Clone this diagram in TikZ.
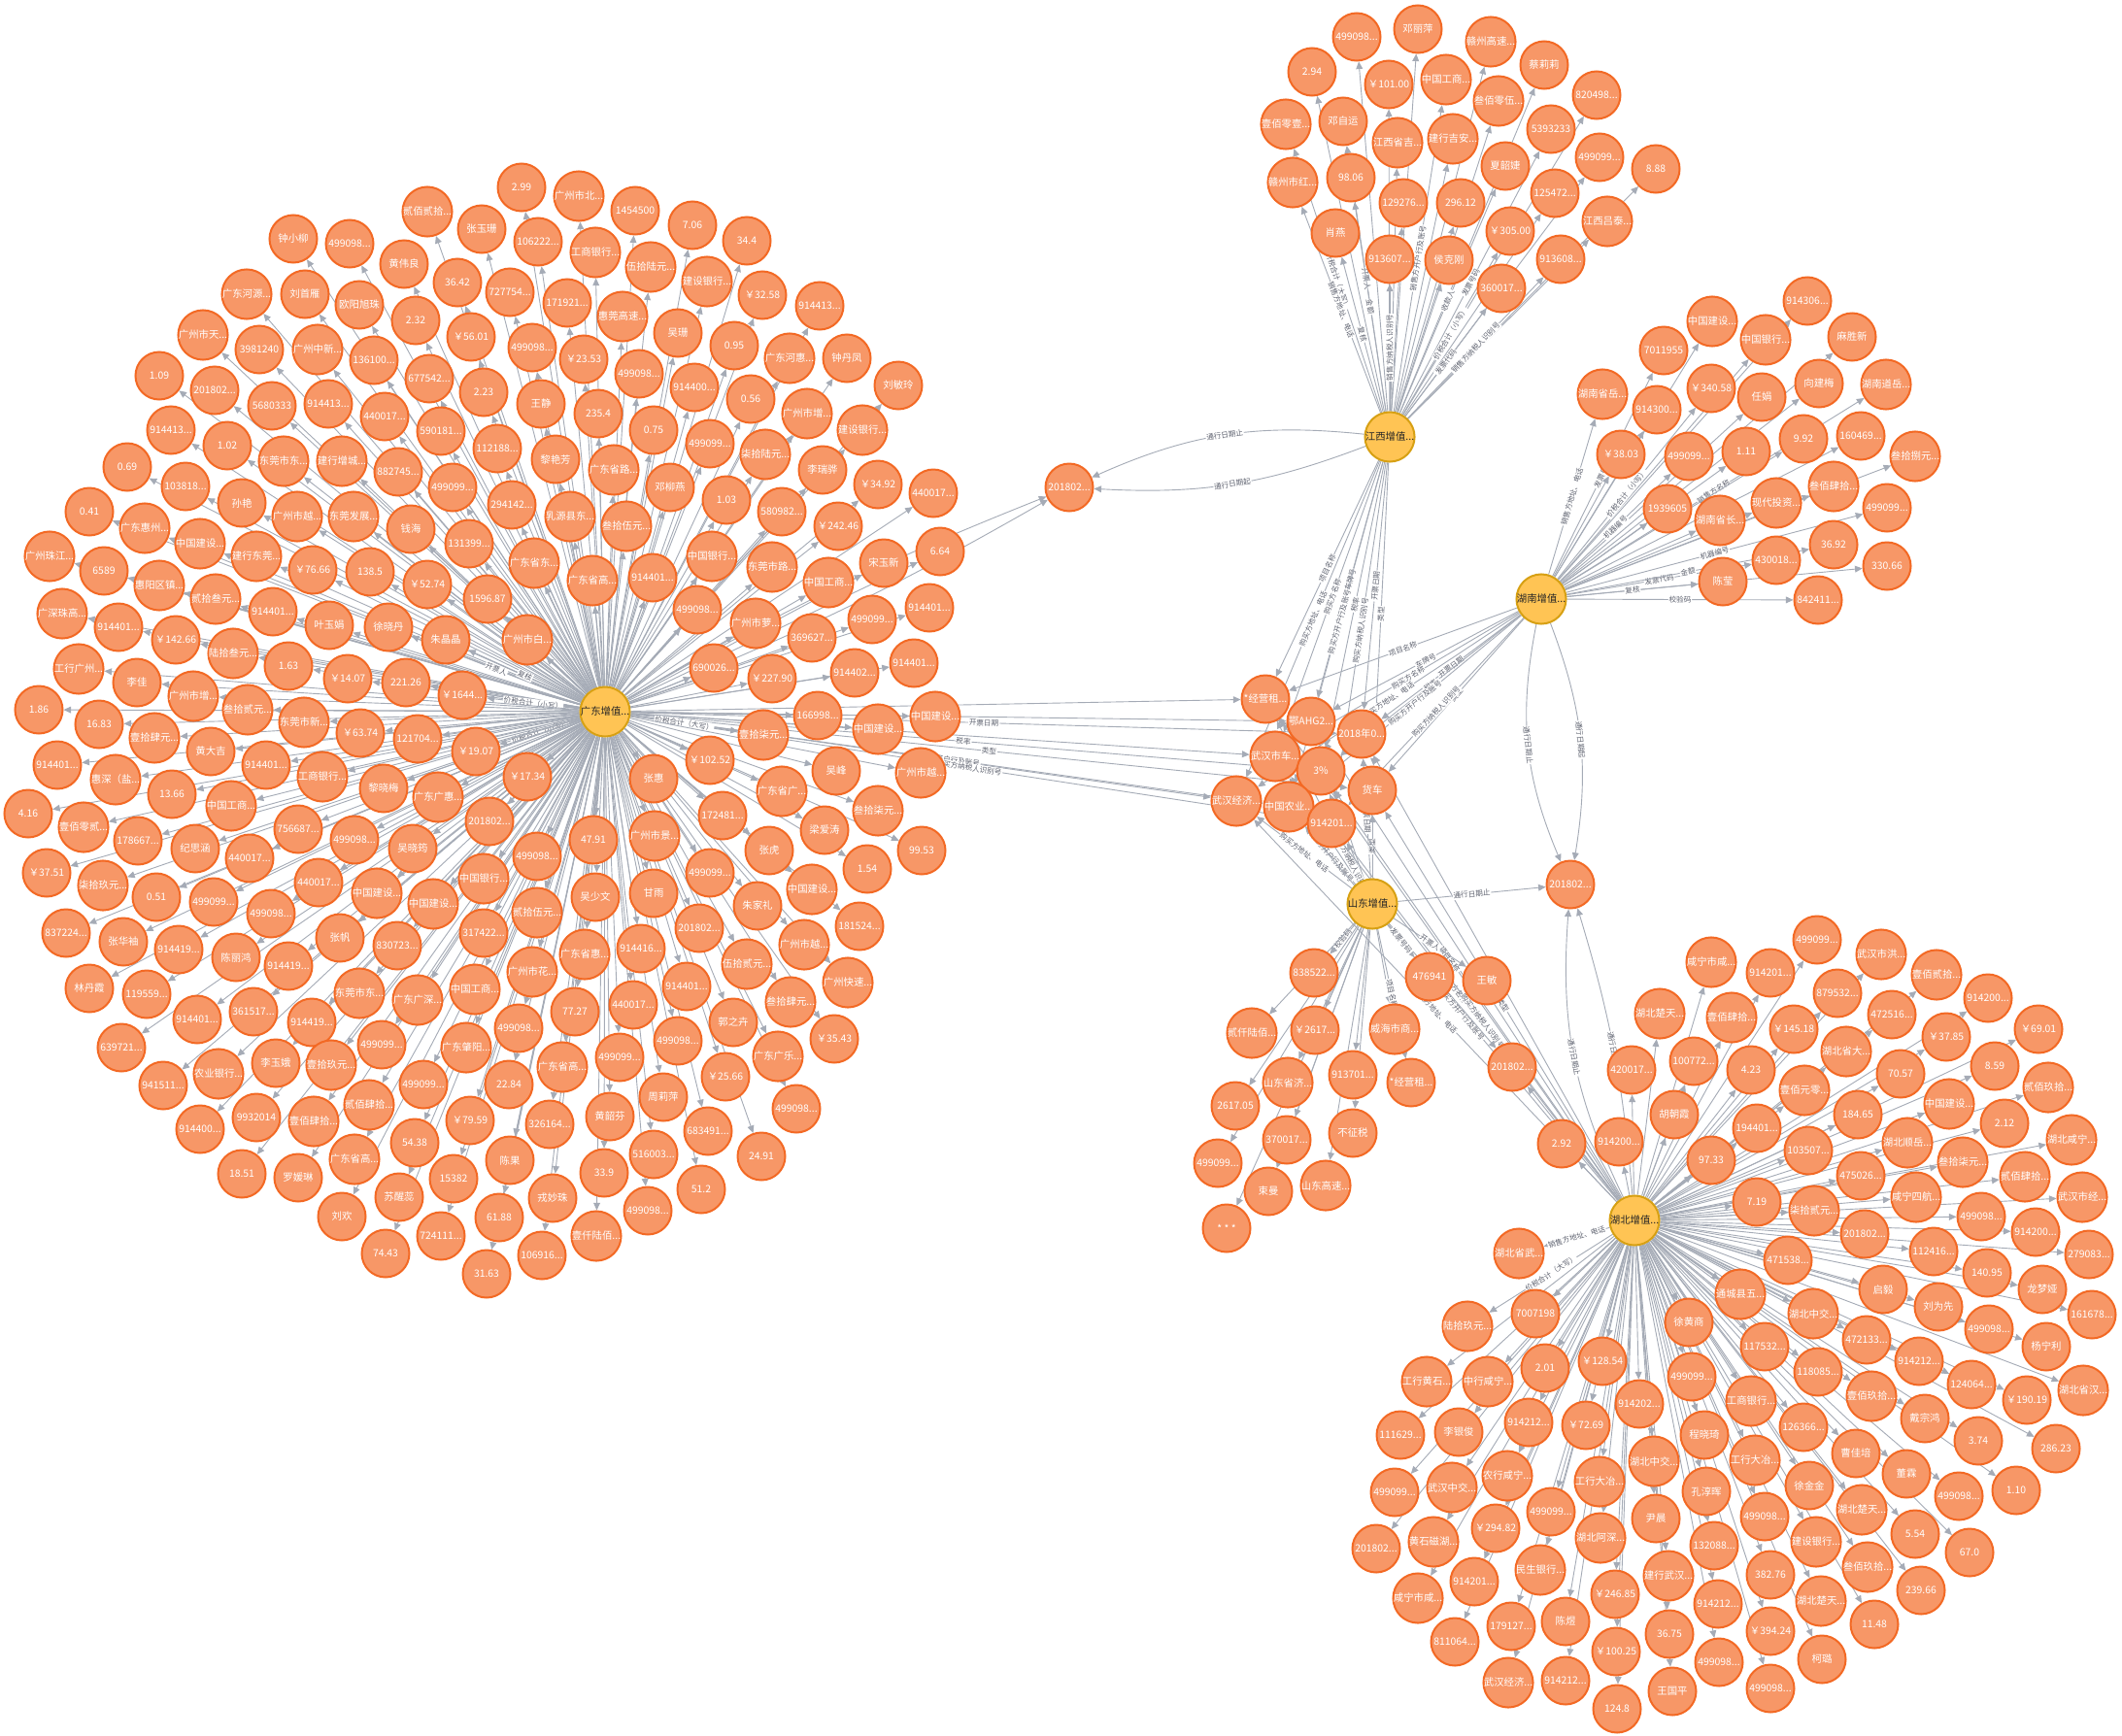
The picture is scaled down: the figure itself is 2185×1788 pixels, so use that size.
\documentclass[tikz,border=0pt]{standalone}
\usepackage{fontspec}
\usepackage{etoolbox}
\setmainfont{Noto Sans CJK SC}
\usetikzlibrary{arrows.meta}
\pgfdeclarelayer{bg}
\pgfsetlayers{bg,main}
\definecolor{lfill}{HTML}{F79767}
\definecolor{ldraw}{HTML}{F36924}
\definecolor{hfill}{HTML}{FFC454}
\definecolor{hdraw}{HTML}{D7A013}
\definecolor{ecol}{HTML}{A5ABB6}
\definecolor{ltxt}{HTML}{5F6370}
\tikzset{
 lf/.style={circle, fill=lfill, draw=ldraw, line width=1pt, minimum size=24.5pt, inner sep=0pt, text=white, font=\fontsize{5.2}{6}\selectfont},
 hub/.style={lf, fill=hfill, draw=hdraw, text=black!85},
 edge/.style={draw=ecol, line width=0.45pt, -{Triangle[length=3.8pt,width=3.4pt]}},
 elab/.style={sloped, midway, fill=white, inner sep=0.4pt, text=ltxt, font=\fontsize{3.8}{4}\selectfont},
}
\newcounter{nc}
\def\edgelist{}
\newcommand\leafnode[5]{\stepcounter{nc}\edef\nm{n\arabic{nc}}%
 \node[lf] (\nm) at (#2,#3) {#4};%
 \ifx\relax#5\relax\xappto\edgelist{\noexpand\draw[edge] (#1) -- (\nm);}%
 \else\xappto\edgelist{\noexpand\draw[edge] (#1) -- node[elab]{\unexpanded{#5}} (\nm);}\fi}
\newcommand\GD[4][]{\leafnode{gd}{#2}{#3}{#4}{#1}}
\newcommand\JX[4][]{\leafnode{jx}{#2}{#3}{#4}{#1}}
\newcommand\HN[4][]{\leafnode{hn}{#2}{#3}{#4}{#1}}
\newcommand\SD[4][]{\leafnode{sd}{#2}{#3}{#4}{#1}}
\newcommand\HB[4][]{\leafnode{hb}{#2}{#3}{#4}{#1}}
\begin{document}
\begin{tikzpicture}[x=0.5pt,y=-0.5pt]
% hubs
\node[hub] (gd) at (623,733) {广东增值...};
\node[hub] (jx) at (1431,450) {江西增值...};
\node[hub] (hn) at (1587,617) {湖南增值...};
\node[hub] (sd) at (1413,931) {山东增值...};
\node[hub] (hb) at (1683,1257) {湖北增值...};
% shared nodes
\node[lf] (A) at (1101,502) {201802...};
\node[lf] (B) at (1617,911) {201802...};
\node[lf] (C) at (1557,1099) {201802...};
\node[lf] (s1) at (1303,720) {*经营租...};
\node[lf] (s2) at (1350,743) {鄂AHG2...};
\node[lf] (s3) at (1402,756) {2018年0...};
\node[lf] (s4) at (1313,779) {武汉市车...};
\node[lf] (s5) at (1360,794) {3\%};
\node[lf] (s6) at (1413,814) {货车};
\node[lf] (s7) at (1273,825) {武汉经济...};
\node[lf] (s8) at (1327,831) {中国农业...};
\node[lf] (s9) at (1371,848) {914201...};
\node[lf] (t292) at (1608,1178) {2.92};
% ---------------- Guangdong cluster
\GD{537}{193}{2.99}
\GD{440}{218}{贰佰贰拾...}
\GD{496}{236}{张玉珊}
\GD{302}{246}{钟小柳}
\GD{360}{251}{499098...}
\GD{416}{272}{黄伟良}
\GD{471}{291}{36.42}
\GD{525}{301}{727754...}
\GD{254}{303}{广东河源...}
\GD{314}{303}{刘首雁}
\GD{370}{314}{欧阳旭珠}
\GD{428}{330}{2.32}
\GD{485}{347}{￥56.01}
\GD{548}{358}{499098...}
\GD{209}{345}{广州市天...}
\GD{267}{360}{3981240}
\GD{327}{360}{广州中新...}
\GD{385}{371}{136100...}
\GD{442}{390}{677542...}
\GD{498}{404}{2.23}
\GD{557}{416}{王静}
\GD{164}{387}{1.09}
\GD{221}{402}{201802...}
\GD{280}{418}{5680333}
\GD{338}{416}{914413...}
\GD{396}{429}{440017...}
\GD{454}{444}{590181...}
\GD{512}{462}{112188...}
\GD{176}{443}{914413...}
\GD{234}{459}{1.02}
\GD{292}{475}{东莞市东...}
\GD{352}{475}{建行增城...}
\GD{410}{486}{882745...}
\GD{466}{502}{499099...}
\GD{527}{520}{294142...}
\GD{131}{481}{0.69}
\GD{191}{501}{103818...}
\GD{249}{518}{孙艳}
\GD{306}{532}{广州市越...}
\GD{364}{532}{东莞发展...}
\GD{423}{545}{钱海}
\GD{483}{560}{131399...}
\GD{92}{527}{0.41}
\GD{149}{544}{广东惠州...}
\GD{206}{560}{中国建设...}
\GD{264}{573}{建行东莞...}
\GD{322}{587}{￥76.66}
\GD{381}{589}{138.5}
\GD{440}{602}{￥52.74}
\GD{502}{617}{1596.87}
\GD{550}{580}{广东省东...}
\GD{51}{573}{广州珠江...}
\GD{107}{588}{6589}
\GD{164}{603}{惠阳区镇...}
\GD{222}{617}{贰拾叁元...}
\GD{281}{630}{914401...}
\GD{339}{644}{叶玉娟}
\GD[开票人]{400}{646}{徐晓丹}
\GD[复核]{459}{659}{朱晶晶}
\GD{543}{659}{广州市白...}
\GD{64}{632}{广深珠高...}
\GD{122}{646}{914401...}
\GD{181}{659}{￥142.66}
\GD{240}{673}{陆拾叁元...}
\GD{297}{686}{1.63}
\GD{358}{699}{￥14.07}
\GD{418}{703}{221.26}
\GD[价税合计（小写）]{476}{716}{￥1644...}
\GD{81}{689}{工行广州...}
\GD{141}{703}{李佳}
\GD{199}{717}{广州市增...}
\GD{255}{731}{叁拾贰元...}
\GD{313}{744}{东莞市新...}
\GD{40}{731}{1.86}
\GD{102}{746}{16.83}
\GD{371}{755}{￥63.74}
\GD{159}{760}{壹拾肆元...}
\GD{217}{774}{黄大吉}
\GD{274}{788}{914401...}
\GD{332}{800}{工商银行...}
\GD{395}{812}{黎晓梅}
\GD{451}{821}{广东广惠...}
\GD{430}{761}{121704...}
\GD[价税合计（小写）]{490}{774}{￥19.07}
\GD{543}{800}{￥17.34}
\GD{59}{788}{914401...}
\GD{119}{803}{惠深（盐...}
\GD{177}{818}{13.66}
\GD{238}{830}{中国工商...}
\GD{29}{838}{4.16}
\GD{86}{852}{壹佰零贰...}
\GD{142}{866}{178667...}
\GD{201}{874}{纪思涵}
\GD{307}{854}{756687...}
\GD{365}{865}{499098...}
\GD{425}{874}{吴晓筠}
\GD{504}{846}{201802...}
\GD{553}{882}{499098...}
\GD{48}{899}{￥37.51}
\GD{106}{912}{柒拾玖元...}
\GD{257}{884}{440017...}
\GD{161}{924}{0.51}
\GD{220}{929}{499099...}
\GD{328}{909}{440017...}
\GD{279}{941}{499098...}
\GD{388}{920}{中国建设...}
\GD{446}{931}{中国建设...}
\GD{498}{905}{中国银行...}
\GD{553}{940}{贰拾伍元...}
\GD{68}{961}{837224...}
\GD{127}{970}{张华袖}
\GD{184}{978}{914419...}
\GD{243}{986}{陈丽鸿}
\GD{350}{966}{张帆}
\GD{409}{974}{830723...}
\GD{498}{961}{317422...}
\GD{297}{995}{914419...}
\GD{548}{1001}{广州市花...}
\GD{92}{1018}{林丹霞}
\GD{151}{1024}{119559...}
\GD{370}{1023}{东莞市东...}
\GD{430}{1030}{广东广深...}
\GD{489}{1019}{中国工商...}
\GD{203}{1050}{914401...}
\GD{261}{1042}{361517...}
\GD{321}{1053}{914419...}
\GD{125}{1079}{639721...}
\GD{393}{1076}{499099...}
\GD{480}{1079}{广东肇阳...}
\GD{534}{1059}{499098...}
\GD{168}{1118}{941511...}
\GD{225}{1106}{农业银行...}
\GD{284}{1095}{李玉娥}
\GD{341}{1097}{壹拾玖元...}
\GD{436}{1117}{499099...}
\GD{524}{1117}{22.84}
\GD{206}{1163}{914400...}
\GD{264}{1151}{9932014}
\GD{323}{1155}{壹佰肆拾...}
\GD{380}{1138}{贰佰肆拾...}
\GD{484}{1154}{￥79.59}
\GD{566}{1158}{326164...}
\GD{249}{1209}{18.51}
\GD{307}{1213}{罗媛琳}
\GD{365}{1194}{广东省高...}
\GD{427}{1177}{54.38}
\GD{467}{1214}{15382}
\GD{525}{1195}{陈果}
\GD{352}{1253}{刘欢}
\GD{411}{1233}{苏醒蕊}
\GD{514}{1254}{61.88}
\GD{454}{1273}{724111...}
\GD{397}{1291}{74.43}
\GD{501}{1312}{31.63}
\GD{558}{1293}{106916...}
\GD[价税合计（大写）]{786}{757}{壹拾柒元...}
\GD{904}{751}{中国建设...}
\GD{963}{738}{中国建设...}
\GD{731}{783}{￥102.52}
\GD{861}{794}{吴峰}
\GD{948}{796}{广州市越...}
\GD{673}{802}{张惠}
\GD{805}{815}{广东省广...}
\GD{904}{835}{叁拾柒元...}
\GD{849}{855}{梁爱涛}
\GD{744}{840}{172481...}
\GD{949}{876}{99.53}
\GD{611}{865}{47.91}
\GD{674}{861}{广州市景...}
\GD{792}{876}{张虎}
\GD{893}{895}{1.54}
\GD{731}{899}{499099...}
\GD{836}{916}{中国建设...}
\GD{613}{924}{吴少文}
\GD{673}{920}{甘雨}
\GD{780}{933}{朱家礼}
\GD{885}{954}{181524...}
\GD{720}{956}{201802...}
\GD{828}{973}{广州市越...}
\GD{602}{983}{广东省惠...}
\GD{660}{977}{914416...}
\GD{769}{993}{伍拾贰元...}
\GD{873}{1012}{广州快速...}
\GD{707}{1016}{914401...}
\GD{592}{1042}{77.27}
\GD{652}{1035}{440017...}
\GD{755}{1053}{郭之卉}
\GD{814}{1032}{叁拾肆元...}
\GD{859}{1070}{￥35.43}
\GD{579}{1099}{广东省高...}
\GD{638}{1089}{499099...}
\GD{698}{1072}{499098...}
\GD{747}{1109}{￥25.66}
\GD{801}{1088}{广东广乐...}
\GD{683}{1130}{周莉萍}
\GD{628}{1150}{黄韶芬}
\GD{820}{1142}{499098...}
\GD{729}{1165}{683491...}
\GD{673}{1189}{516003...}
\GD{784}{1191}{24.91}
\GD{622}{1208}{33.9}
\GD{722}{1225}{51.2}
\GD{569}{1234}{戎妙珠}
\GD{667}{1247}{499098...}
\GD{614}{1273}{壹仟陆佰...}
\GD{572}{473}{黎艳芳}
\GD{632}{484}{广东省路...}
\GD{690}{502}{邓柳燕}
\GD{748}{515}{1.03}
\GD{847}{484}{李瑞骅}
\GD{805}{527}{580982...}
\GD{863}{542}{￥242.46}
\GD{587}{532}{乳源县东...}
\GD{645}{542}{叁拾伍元...}
\GD{733}{573}{中国银行...}
\GD{795}{584}{东莞市路...}
\GD{853}{600}{中国工商...}
\GD{610}{598}{广东省高...}
\GD{672}{595}{914401...}
\GD{718}{628}{499098...}
\GD{778}{642}{广州市萝...}
\GD{836}{657}{369627...}
\GD{898}{638}{499099...}
\GD{735}{688}{690026...}
\GD{795}{699}{￥227.90}
\GD{880}{693}{914402...}
\GD{842}{737}{166998...}
\GD{596}{202}{广州市北...}
\GD{654}{217}{1454500}
\GD{713}{232}{7.06}
\GD{769}{248}{34.4}
\GD{554}{249}{106222...}
\GD{613}{260}{工商银行...}
\GD{670}{275}{伍拾陆元...}
\GD{728}{290}{建设银行...}
\GD{785}{304}{￥32.58}
\GD{844}{315}{914413...}
\GD{584}{312}{171921...}
\GD{641}{326}{惠莞高速...}
\GD{698}{343}{吴珊}
\GD{756}{356}{0.95}
\GD{813}{369}{广东河惠...}
\GD{872}{369}{钟丹凤}
\GD{925}{397}{刘敏玲}
\GD{601}{370}{￥23.53}
\GD{658}{385}{499098...}
\GD{715}{399}{914400...}
\GD{773}{411}{0.56}
\GD{831}{426}{广州市增...}
\GD{888}{443}{建设银行...}
\GD{616}{426}{235.4}
\GD{673}{443}{0.75}
\GD{731}{457}{499099...}
\GD{788}{468}{柒拾陆元...}
\GD{904}{499}{￥34.92}
\GD{961}{508}{440017...}
\GD{910}{580}{宋玉新}
\GD{968}{568}{6.64}
\GD{957}{626}{914401...}
\GD{941}{683}{914401...}
% ---------------- Jiangxi cluster
\JX{1397}{38}{499098...}
\JX{1460}{30}{邓丽萍}
\JX{1351}{74}{2.94}
\JX{1430}{87}{￥101.00}
\JX[销售方开户行及账号]{1489}{82}{中国工商...}
\JX{1535}{43}{赣州高速...}
\JX{1590}{67}{蔡莉莉}
\JX[价税合计（大写）]{1324}{128}{壹佰零壹...}
\JX[开票人]{1383}{125}{邓自运}
\JX{1439}{147}{江西省吉...}
\JX{1496}{143}{建行吉安...}
\JX{1543}{104}{叁佰零伍...}
\JX{1644}{98}{820498...}
\JX[发票号码]{1597}{133}{5393233}
\JX[销售方地址、电话]{1331}{188}{赣州市红...}
\JX[金额]{1391}{183}{98.06}
\JX{1445}{209}{129276...}
\JX{1504}{209}{296.12}
\JX[收款人]{1550}{171}{夏韶婕}
\JX{1647}{162}{499099...}
\JX{1705}{174}{8.88}
\JX{1601}{199}{125472...}
\JX[复核]{1375}{240}{肖燕}
\JX[销售方纳税人识别号]{1431}{267}{913607...}
\JX{1492}{268}{侯克刚}
\JX[价税合计（小写）]{1555}{238}{￥305.00}
\JX{1655}{228}{江西吕泰...}
\JX[销售方纳税人识别号]{1607}{267}{913608...}
\JX[发票代码]{1546}{297}{360017...}
% ---------------- Hunan cluster
\HN{1861}{310}{914306...}
\HN{1763}{331}{中国建设...}
\HN{1818}{350}{中国银行...}
\HN{1907}{347}{麻胜新}
\HN[发票号码]{1713}{361}{7011955}
\HN[销售方地址、电话]{1650}{406}{湖南省岳...}
\HN{1706}{422}{914300...}
\HN[价税合计（小写）]{1762}{400}{￥340.58}
\HN{1814}{409}{任娟}
\HN{1873}{395}{向建梅}
\HN[销售方名称]{1942}{396}{湖南道岳...}
\HN{1669}{468}{￥38.03}
\HN[机器编号]{1739}{470}{499099...}
\HN{1798}{465}{1.11}
\HN{1857}{452}{9.92}
\HN{1916}{449}{160469...}
\HN{1972}{470}{叁拾捌元...}
\HN{1717}{524}{1939605}
\HN{1771}{536}{湖南省长...}
\HN{1829}{518}{现代投资...}
\HN{1888}{501}{叁佰肆拾...}
\HN[机器编号]{1943}{523}{499099...}
\HN[发票代码]{1829}{577}{430018...}
\HN[金额]{1888}{561}{36.92}
\HN{1943}{583}{330.66}
\HN[复核]{1774}{599}{陈莹}
\HN[校验码]{1872}{618}{842411...}
% ---------------- Shandong cluster
\SD[校验码]{1353}{1002}{838522...}
\SD[发票号码]{1472}{1006}{476941}
\SD[开票人]{1531}{1010}{王敏}
\SD{1289}{1064}{贰仟陆佰...}
\SD{1354}{1061}{￥2617...}
\SD{1436}{1060}{威海市商...}
\SD{1326}{1115}{山东省济...}
\SD{1393}{1107}{913701...}
\SD[项目名称]{1453}{1115}{*经营租...}
\SD{1272}{1139}{2617.05}
\SD{1325}{1174}{370017...}
\SD{1393}{1167}{不征税}
\SD{1254}{1198}{499099...}
\SD{1306}{1227}{束曼}
\SD{1365}{1221}{山东高速...}
\SD{1263}{1265}{* * *}
% ---------------- Hubei cluster
\HB{1871}{968}{499099...}
\HB{1762}{991}{咸宁市咸...}
\HB{1823}{1002}{914201...}
\HB{1937}{983}{武汉市洪...}
\HB{1994}{1004}{壹佰贰拾...}
\HB{1709}{1044}{湖北楚天...}
\HB{1783}{1048}{壹佰肆拾...}
\HB{1892}{1023}{879532...}
\HB{2047}{1028}{914200...}
\HB{1847}{1060}{￥145.18}
\HB{1948}{1045}{472516...}
\HB{2099}{1060}{￥69.01}
\HB{1680}{1102}{420017...}
\HB{1744}{1093}{100772...}
\HB{1803}{1102}{4.23}
\HB{1901}{1083}{湖北省大...}
\HB{2004}{1068}{￥37.85}
\HB{1957}{1106}{70.57}
\HB{2054}{1098}{8.59}
\HB{1858}{1123}{壹佰元零...}
\HB{2109}{1120}{贰佰玖拾...}
\HB{1724}{1148}{胡朝霞}
\HB{1913}{1148}{184.65}
\HB{2007}{1137}{中国建设...}
\HB{1667}{1176}{914200...}
\HB{1809}{1162}{194401...}
\HB{1862}{1185}{103507...}
\HB{1964}{1177}{湖北顺岳...}
\HB{2064}{1157}{2.12}
\HB{2133}{1174}{湖北咸宁...}
\HB{1762}{1195}{97.33}
\HB{1916}{1211}{475026...}
\HB{2021}{1197}{叁拾柒元...}
\HB{2085}{1212}{贰佰肆拾...}
\HB{1809}{1238}{7.19}
\HB{1868}{1247}{柒拾贰元...}
\HB{1973}{1233}{咸宁四航...}
\HB{2144}{1233}{武汉市经...}
\HB{1920}{1271}{201802...}
\HB{2040}{1253}{499098...}
\HB{2096}{1269}{914200...}
\HB[销售方地址、电话]{1564}{1291}{湖北省武...}
\HB{1841}{1298}{471538...}
\HB{1991}{1289}{112416...}
\HB{2151}{1292}{279083...}
\HB{2046}{1311}{140.95}
\HB{1939}{1328}{启毅}
\HB{2103}{1328}{龙梦娅}
\HB{1792}{1333}{通城县五...}
\HB{1996}{1346}{刘为先}
\HB{2154}{1354}{161678...}
\HB{1581}{1353}{7007198}
\HB{1867}{1353}{湖北中交...}
\HB{1739}{1362}{徐黄商}
\HB{2048}{1369}{499098...}
\HB{2107}{1387}{杨宁利}
\HB{1817}{1387}{117532...}
\HB{1922}{1380}{472133...}
\HB{1976}{1402}{914212...}
\HB{1872}{1413}{118085...}
\HB{2030}{1426}{124064...}
\HB{2087}{1442}{￥190.19}
\HB{2145}{1432}{湖北省汉...}
\HB{1803}{1443}{工商银行...}
\HB{1927}{1438}{壹佰玖拾...}
\HB{1982}{1461}{戴宗鸿}
\HB{1857}{1470}{126366...}
\HB{2037}{1484}{3.74}
\HB{2117}{1492}{286.23}
\HB{1807}{1504}{工行大冶...}
\HB{1911}{1497}{曹佳培}
\HB{1963}{1518}{董霖}
\HB{1863}{1530}{徐金金}
\HB{2017}{1541}{499098...}
\HB{2076}{1535}{1.10}
\HB{1817}{1562}{499098...}
\HB{1917}{1555}{湖北楚天...}
\HB{1972}{1580}{5.54}
\HB{2028}{1599}{67.0}
\HB{1870}{1588}{建设银行...}
\HB{1923}{1614}{叁佰玖拾...}
\HB{1823}{1622}{382.76}
\HB{1978}{1638}{239.66}
\HB{1875}{1649}{湖北楚天...}
\HB{1930}{1673}{11.48}
\HB{1823}{1680}{￥394.24}
\HB{1876}{1709}{柯璐}
\HB{1823}{1739}{499098...}
\HB[价税合计（大写）]{1511}{1366}{陆拾玖元...}
\HB{1469}{1423}{工行黄石...}
\HB{1532}{1423}{中行咸宁...}
\HB{1591}{1409}{2.01}
\HB{1650}{1402}{￥128.54}
\HB{1742}{1418}{499099...}
\HB{1688}{1446}{914202...}
\HB{1442}{1478}{111629...}
\HB{1502}{1475}{李银俊}
\HB{1574}{1465}{914212...}
\HB{1633}{1468}{￥72.69}
\HB{1755}{1478}{程晓琦}
\HB{1436}{1537}{499099...}
\HB{1495}{1532}{武汉中交...}
\HB{1552}{1520}{农行咸宁...}
\HB{1647}{1526}{工行大冶...}
\HB{1703}{1505}{湖北中交...}
\HB{1757}{1536}{孔淳晖}
\HB{1417}{1595}{201802...}
\HB{1476}{1588}{黄石磁湖...}
\HB{1540}{1574}{￥294.82}
\HB{1597}{1557}{499099...}
\HB{1648}{1584}{湖北阿深...}
\HB{1705}{1564}{尹晨}
\HB{1765}{1592}{132088...}
\HB{1460}{1646}{咸宁市咸...}
\HB{1518}{1629}{914201...}
\HB{1586}{1617}{民生银行...}
\HB{1663}{1642}{￥246.85}
\HB{1718}{1623}{建行武汉...}
\HB{1769}{1652}{914212...}
\HB{1498}{1691}{811064...}
\HB{1556}{1675}{179127...}
\HB{1612}{1670}{陈煜}
\HB{1664}{1701}{￥100.25}
\HB{1719}{1683}{36.75}
\HB{1770}{1712}{499098...}
\HB{1553}{1733}{武汉经济...}
\HB{1612}{1731}{914212...}
\HB{1665}{1760}{124.8}
\HB{1722}{1742}{王国平}
% ---------------- all connectors, behind the nodes
\begin{pgfonlayer}{bg}
\useasboundingbox (0,0) rectangle (2185,1788);
\fill[white] (0,0) rectangle (2185,1788);
% Guangdong -> shared
\foreach \s in {s1,s2,s4,s7}{\draw[edge] (gd) -- (\s);}
\foreach \s/\l in {s3/{开票日期}, s5/{税率}, s6/{类型}, s8/{购买方开户行及账号}, s9/{购买方纳税人识别号}}{\draw[edge] (gd) -- node[elab]{\l} (\s);}
% Jiangxi and Hunan -> shared
\foreach \h in {jx,hn}{
 \foreach \s/\l in {s1/{项目名称}, s2/{车牌号}, s3/{开票日期}, s4/{购买方名称}, s5/{税率}, s6/{类型}, s7/{购买方地址、电话}, s8/{购买方开户行及账号}, s9/{购买方纳税人识别号}}{
  \draw[edge] (\h) -- node[elab]{\l} (\s);}}
% Shandong -> shared
\foreach \s in {s1,s2,s4,s5}{\draw[edge] (sd) -- (\s);}
\foreach \s/\l in {s3/{开票日期}, s6/{类型}, s7/{购买方地址、电话}, s8/{购买方开户行及账号}, s9/{购买方纳税人识别号}}{\draw[edge] (sd) -- node[elab]{\l} (\s);}
% Hubei -> shared
\foreach \s in {s2,s3,s5}{\draw[edge] (hb) -- (\s);}
\foreach \s/\l in {s1/{项目名称}, s4/{购买方名称}, s6/{类型}, s7/{购买方地址、电话}, s8/{购买方开户行及账号}, s9/{购买方纳税人识别号}}{\draw[edge] (hb) -- node[elab]{\l} (\s);}
\draw[edge] (gd) to[bend left=4] (A);
\draw[edge] (gd) to[bend right=4] (A);
\draw[edge] (jx) to[bend right=15] node[elab]{通行日期止} (A);
\draw[edge] (jx) to[bend left=12] node[elab]{通行日期起} (A);
\draw[edge] (hn) to[bend right=17] node[elab]{通行日期止} (B);
\draw[edge] (hn) to[bend left=15] node[elab]{通行日期起} (B);
\draw[edge] (sd) -- node[elab]{通行日期止} (B);
\draw[edge] (hb) to[bend left=15] node[elab]{通行日期止} (B);
\draw[edge] (hb) to[bend right=6] node[elab]{通行日期起} (B);
\draw[edge] (sd) -- (C);
\draw[edge] (hb) -- (C);
\draw[edge] (hb) -- (t292);
\edgelist
\end{pgfonlayer}
\end{tikzpicture}
\end{document}
